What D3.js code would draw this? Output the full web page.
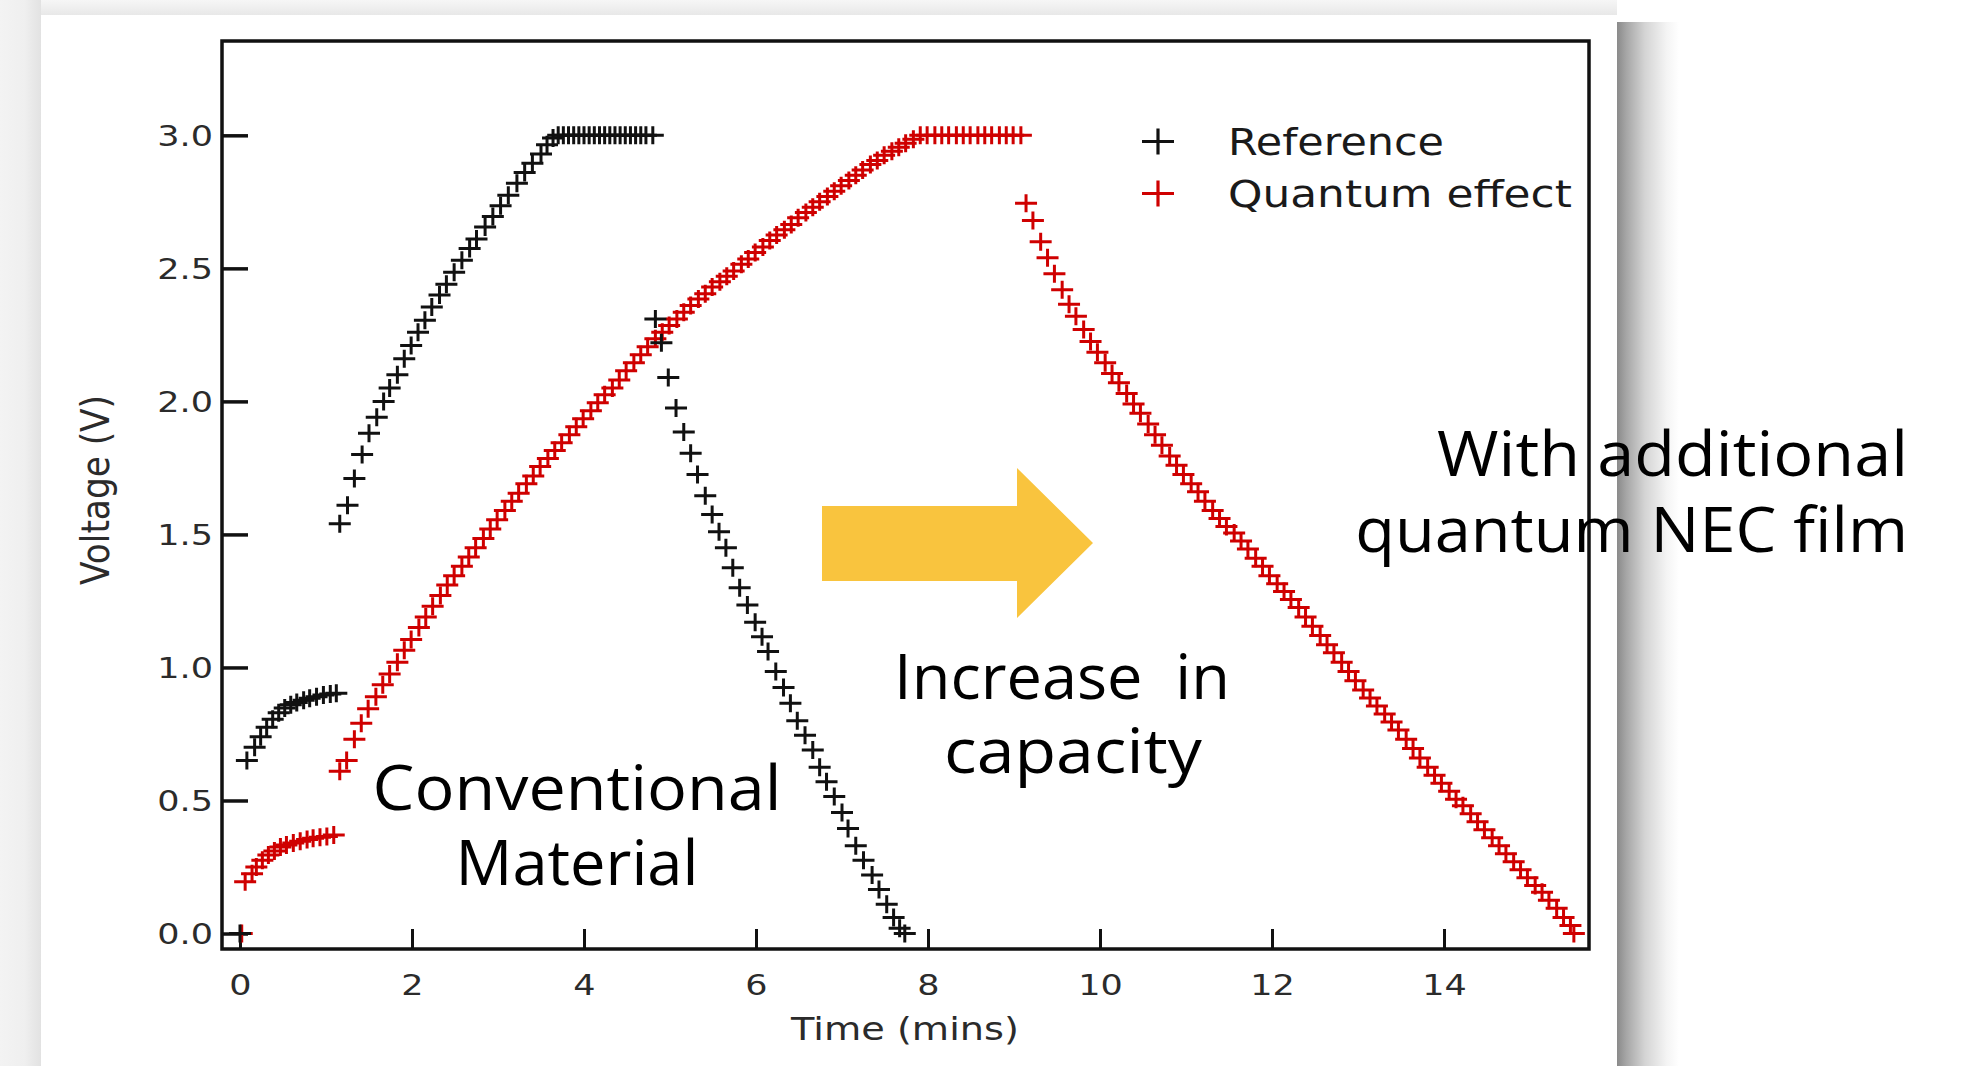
<!DOCTYPE html>
<html><head><meta charset="utf-8">
<script src="https://cdn.jsdelivr.net/npm/d3@7"></script>
<style>
html,body{margin:0;padding:0;background:#fff;overflow:hidden}
svg{display:block}
</style></head>
<body>
<svg id="chart" width="1968" height="1066"></svg>
<script>
// ---------------- DATA ----------------
const seriesNames = ["Reference", "Quantum effect"];
const xTicks = [0, 2, 4, 6, 8, 10, 12, 14];
const yTicks = [0.0, 0.5, 1.0, 1.5, 2.0, 2.5, 3.0];
const xTitle = "Time (mins)";
const yTitle = "Voltage (V)";

// Reference (black)
const refTime = [0,
  0.08,0.17,0.24,0.31,0.38,0.45,0.52,0.59,0.66,0.74,0.81,0.89,0.97,1.05,1.12,
  1.16,1.25,1.33,1.42,1.50,1.59,1.67,1.74,1.83,1.91,1.99,2.07,2.15,2.23,2.32,2.40,2.49,2.58,2.67,2.75,
  2.85,2.94,3.03,3.12,3.22,3.31,3.40,3.50,3.57,3.64,
  3.70,3.76,3.82,3.88,3.94,4.00,4.06,4.12,4.18,4.24,4.30,4.36,4.42,4.48,4.54,4.60,4.66,4.72,4.80,
  4.83,4.90,4.98,5.07,5.16,5.24,5.32,5.41,5.49,5.57,5.65,5.73,5.81,5.90,5.99,6.07,6.14,6.23,6.32,6.40,
  6.48,6.57,6.66,6.74,6.82,6.91,7.00,7.07,7.16,7.25,7.35,7.43,7.52,7.60,7.67,7.73];
const refVolt = [0,
  0.65,0.70,0.74,0.775,0.805,0.83,0.848,0.86,0.868,0.877,0.884,0.89,0.896,0.90,0.903,
  1.54,1.61,1.71,1.80,1.88,1.94,2.00,2.05,2.10,2.16,2.21,2.26,2.305,2.355,2.40,2.44,2.485,2.53,2.575,2.61,
  2.655,2.695,2.735,2.775,2.82,2.86,2.895,2.93,2.965,2.99,
  3.0,3.0,3.0,3.0,3.0,3.0,3.0,3.0,3.0,3.0,3.0,3.0,3.0,3.0,3.0,3.0,3.0,3.0,3.0,
  2.31,2.22,2.09,1.975,1.885,1.805,1.725,1.645,1.575,1.51,1.45,1.375,1.30,1.235,1.17,1.115,1.06,0.985,0.925,0.865,
  0.80,0.745,0.69,0.625,0.57,0.515,0.455,0.395,0.33,0.275,0.22,0.165,0.11,0.06,0.02,0.0];

// Quantum effect (red)
const qTime = [0.02,
  0.06,0.14,0.19,0.26,0.33,0.40,0.47,0.54,0.62,0.70,0.78,0.85,0.93,1.01,1.09,
  1.16,1.24,1.33,1.41,1.49,1.58,1.66,1.74,1.83,1.91,
  1.99,2.08,2.16,2.24,2.33,2.41,2.49,2.58,2.66,2.74,
  2.83,2.91,2.99,3.08,3.16,3.24,3.33,3.41,3.49,3.58,
  3.66,3.74,3.83,3.91,3.99,4.08,4.16,4.24,4.33,4.41,
  4.49,4.58,4.66,4.74,4.83,4.91,4.99,5.08,5.16,5.24,
  5.33,5.41,5.49,5.58,5.66,5.74,5.83,5.91,5.99,6.08,
  6.16,6.24,6.33,6.41,6.49,6.58,6.66,6.74,6.83,6.91,
  6.99,7.08,7.16,7.24,7.33,7.41,7.49,7.58,7.66,7.74,
  7.83,7.91,
  7.99,8.08,8.16,8.24,8.33,8.41,8.49,8.58,8.66,8.74,8.83,8.91,8.99,9.08,
  9.14,9.22,9.31,9.39,9.47,9.56,9.64,9.72,9.81,9.89,
  9.97,10.06,10.14,10.22,10.31,10.39,10.47,10.56,10.64,10.72,
  10.81,10.89,10.97,11.06,11.14,11.22,11.31,11.39,11.47,11.56,
  11.64,11.72,11.81,11.89,11.97,12.06,12.14,12.22,12.31,12.39,
  12.47,12.56,12.64,12.72,12.81,12.89,12.97,13.06,13.14,13.22,
  13.31,13.39,13.47,13.56,13.64,13.72,13.81,13.89,13.97,14.06,
  14.14,14.22,14.31,14.39,14.47,14.56,14.64,14.72,14.81,14.89,
  14.97,15.06,15.14,15.22,15.31,15.39,15.47,15.51];
const qVolt = [0,
  0.195,0.225,0.25,0.275,0.295,0.31,0.325,0.333,0.34,0.347,0.353,0.358,0.362,0.365,0.37,
  0.61,0.65,0.73,0.79,0.845,0.89,0.935,0.975,1.02,1.065,
  1.105,1.15,1.19,1.23,1.27,1.31,1.345,1.38,1.415,1.45,
  1.485,1.52,1.555,1.59,1.625,1.655,1.69,1.72,1.755,1.785,
  1.815,1.845,1.875,1.905,1.935,1.965,1.995,2.025,2.05,2.08,
  2.115,2.145,2.175,2.205,2.235,2.26,2.285,2.31,2.335,2.36,
  2.385,2.405,2.43,2.45,2.47,2.49,2.515,2.535,2.56,2.58,
  2.605,2.625,2.645,2.665,2.69,2.71,2.73,2.75,2.77,2.79,
  2.81,2.83,2.85,2.87,2.89,2.905,2.925,2.94,2.955,2.97,
  2.985,3.0,
  3.0,3.0,3.0,3.0,3.0,3.0,3.0,3.0,3.0,3.0,3.0,3.0,3.0,3.0,
  2.745,2.68,2.60,2.54,2.48,2.42,2.365,2.32,2.27,2.225,
  2.185,2.145,2.105,2.07,2.03,1.99,1.955,1.915,1.875,1.835,
  1.795,1.76,1.725,1.69,1.66,1.625,1.59,1.56,1.53,1.505,
  1.475,1.445,1.41,1.38,1.345,1.315,1.285,1.255,1.225,1.19,
  1.155,1.12,1.085,1.055,1.02,0.985,0.95,0.915,0.885,0.855,
  0.825,0.795,0.765,0.73,0.695,0.66,0.625,0.595,0.565,0.535,
  0.505,0.48,0.45,0.42,0.39,0.36,0.33,0.30,0.27,0.24,
  0.21,0.18,0.155,0.125,0.095,0.06,0.03,0.0];

// Slide annotations
const noteConventional = ["Conventional", "Material"];
const noteIncrease = ["Increase\u00A0\u00A0in", "capacity"];
const noteQuantum = ["With additional", "quantum NEC film"];

// ---------------- LAYOUT ----------------
const svg = d3.select("#chart");
const defs = svg.append("defs");
function grad(id, x2, y2, stops) {
  const g = defs.append("linearGradient").attr("id", id)
    .attr("x1", 0).attr("y1", 0).attr("x2", x2).attr("y2", y2);
  stops.forEach(s => g.append("stop").attr("offset", s[0]).attr("stop-color", s[1]));
}
grad("gTop", 0, 1, [[0, "#f6f6f6"], [1, "#e8e8e8"]]);
grad("gLeft", 1, 0, [[0, "#f3f3f3"], [0.6, "#efefef"], [1, "#e2e2e2"]]);
grad("gRight", 1, 0, [[0, "#8a8a8a"], [0.15, "#a6a6a6"], [0.45, "#d4d4d4"], [0.8, "#f4f4f4"], [1, "#ffffff"]]);

svg.append("rect").attr("x", 0).attr("y", 0).attr("width", 1617).attr("height", 15).attr("fill", "url(#gTop)");
svg.append("rect").attr("x", 0).attr("y", 0).attr("width", 41).attr("height", 1066).attr("fill", "url(#gLeft)");
svg.append("rect").attr("x", 1617).attr("y", 22).attr("width", 62).attr("height", 1044).attr("fill", "url(#gRight)");
svg.append("rect").attr("x", 41).attr("y", 15).attr("width", 1576).attr("height", 1051).attr("fill", "#fff");

const x = d3.scaleLinear().domain([-0.2093, 15.686]).range([222, 1589]);
const y = d3.scaleLinear().domain([-0.0582, 3.3545]).range([949, 41]);

const tickFont = "DejaVu Sans";
const stretch = 1.25;

// y axis
const gy = svg.append("g").attr("transform", `translate(${x.range()[0]},0)`)
  .call(d3.axisLeft(y).tickValues(yTicks).tickSize(-26).tickPadding(0).tickFormat(d3.format(".1f")));
gy.select(".domain").remove();
gy.selectAll(".tick line").attr("stroke", "#111").attr("stroke-width", 3.5);
gy.selectAll(".tick text").attr("x", null).attr("dy", "0.36em")
  .attr("transform", `translate(-9,0) scale(${stretch},1)`)
  .attr("font-family", tickFont).attr("font-size", 28).attr("fill", "#2b2b2b");

// x axis
const gx = svg.append("g").attr("transform", `translate(0,${y.range()[0]})`)
  .call(d3.axisBottom(x).tickValues(xTicks).tickSize(-20).tickPadding(0).tickFormat(d3.format("d")));
gx.select(".domain").remove();
gx.selectAll(".tick line").attr("stroke", "#111").attr("stroke-width", 3);
gx.selectAll(".tick text").attr("y", null).attr("dy", null)
  .attr("transform", `translate(0,46) scale(${stretch},1)`)
  .attr("font-family", tickFont).attr("font-size", 28).attr("fill", "#2b2b2b");

// frame
svg.append("rect").attr("x", x.range()[0]).attr("y", y.range()[1])
  .attr("width", x.range()[1] - x.range()[0]).attr("height", y.range()[0] - y.range()[1])
  .attr("fill", "none").attr("stroke", "#111").attr("stroke-width", 3.5);

function placeText(g, str, o) {
  const t = g.append("text").text(str)
    .attr("font-family", o.font).attr("font-size", o.size)
    .attr("text-anchor", o.anchor || "start").attr("fill", o.fill || "#000")
    .style("white-space", "pre");
  let s = o.sx || 1;
  if (o.width) s = o.width / t.node().getComputedTextLength();
  t.attr("transform", `translate(${o.x},${o.y})` + (o.rotate ? ` rotate(${o.rotate})` : "") + ` scale(${s},${o.sy || 1})`);
  return t;
}

// axis titles
placeText(svg, xTitle, {font: tickFont, size: 32, anchor: "middle", x: 905, y: 1040, width: 228, fill: "#2b2b2b"});
placeText(svg, yTitle, {font: tickFont, size: 33, anchor: "middle", x: 109, y: 490, rotate: -90, width: 190, sy: 1.2, fill: "#2b2b2b"});

// markers
const cross = "M-11,0H11M0,-9V9";
const plot = svg.append("g");
plot.append("g").selectAll("path").data(d3.range(qTime.length)).join("path")
  .attr("d", cross).attr("transform", i => `translate(${x(qTime[i])},${y(qVolt[i])})`)
  .attr("fill", "none").attr("stroke", "#cf0000").attr("stroke-width", 3);
plot.append("g").selectAll("path").data(d3.range(refTime.length)).join("path")
  .attr("d", cross).attr("transform", i => `translate(${x(refTime[i])},${y(refVolt[i])})`)
  .attr("fill", "none").attr("stroke", "#111").attr("stroke-width", 3);

// legend
const legColors = ["#111", "#cf0000"];
const legWidths = [216, 344];
seriesNames.forEach((name, i) => {
  const cy = 141.5 + i * 52;
  svg.append("path").attr("d", "M-16,0H16M0,-13V13").attr("transform", `translate(1158,${cy})`)
    .attr("fill", "none").attr("stroke", legColors[i]).attr("stroke-width", 3.2);
  placeText(svg, name, {font: tickFont, size: 37, x: 1228, y: cy + 13.5, width: legWidths[i], fill: "#1a1a1a"});
});

// yellow arrow
svg.append("polygon")
  .attr("points", [[822,506],[1017,506],[1017,468],[1093,543],[1017,618],[1017,581],[822,581]].map(p => p.join(",")).join(" "))
  .attr("fill", "#f9c43e");

// annotations
const annFont = "Open Sans";
placeText(svg, noteConventional[0], {font: annFont, size: 62, anchor: "middle", x: 577, y: 810, width: 409});
placeText(svg, noteConventional[1], {font: annFont, size: 62, anchor: "middle", x: 577, y: 885, width: 243});
placeText(svg, noteIncrease[0], {font: annFont, size: 62, anchor: "middle", x: 1062, y: 699, width: 336});
placeText(svg, noteIncrease[1], {font: annFont, size: 62, anchor: "middle", x: 1073, y: 773, width: 258});
placeText(svg, noteQuantum[0], {font: annFont, size: 62, anchor: "end", x: 1908, y: 476, width: 471});
placeText(svg, noteQuantum[1], {font: annFont, size: 62, anchor: "end", x: 1908, y: 552, width: 553});
</script>
</body></html>
